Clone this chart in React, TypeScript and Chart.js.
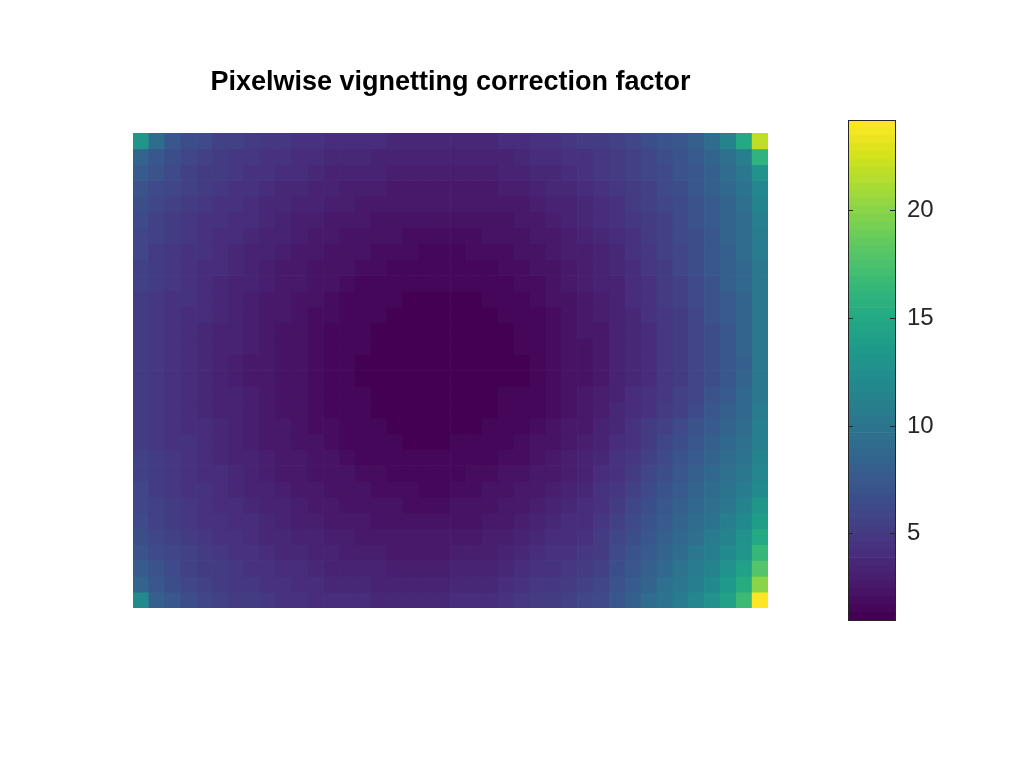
import React, { useEffect, useRef } from "react";
import { Chart, registerables } from "chart.js";

Chart.register(...registerables);

const TITLE = "Pixelwise vignetting correction factor";
const COLOR_MIN = 1.0;
const COLOR_MAX = 24.2;
const COLORBAR_TICKS = [5, 10, 15, 20];
const LEVELS = 64;

const viridisAnchors = ["#440154","#481a6c","#472f7d","#414487","#39568c","#31688e","#2a788e","#23888e","#1f988b","#22a884","#35b779","#54c568","#7ad151","#a5db36","#d2e21b","#fde725"];

const correctionRows: number[][] = [
[13,9.0,7.5,6.7,6.1,5.7,5.4,5.1,4.9,4.7,4.5,4.3,4.2,4.1,4.0,3.9,3.8,3.7,3.7,3.7,3.7,3.7,3.8,3.9,4.1,4.3,4.5,4.7,5.0,5.3,5.6,6.0,6.5,6.9,7.5,8.2,9.2,11.5,15,22],
[8.5,7.4,6.6,6.0,5.6,5.3,4.9,4.7,4.5,4.3,4.1,4.0,3.8,3.7,3.6,3.4,3.4,3.3,3.3,3.3,3.3,3.3,3.4,3.4,3.7,3.9,4.1,4.4,4.6,4.9,5.2,5.6,6.0,6.5,7.0,7.6,8.5,9.6,11.0,16],
[7.7,6.8,6.2,5.7,5.3,5.0,4.7,4.5,4.3,4.1,3.9,3.7,3.5,3.4,3.3,3.2,3.1,3.0,3.0,3.0,3.0,3.0,3.1,3.2,3.4,3.6,3.8,4.1,4.4,4.7,5.0,5.4,5.8,6.2,6.8,7.4,8.2,9.1,10.4,12.6],
[7.1,6.4,5.8,5.4,5.0,4.8,4.5,4.3,4.0,3.8,3.6,3.4,3.3,3.1,3.0,2.9,2.8,2.7,2.7,2.7,2.7,2.7,2.8,2.9,3.1,3.3,3.6,3.8,4.1,4.4,4.7,5.2,5.6,6.1,6.5,7.2,7.9,8.8,9.9,11.8],
[6.7,6.0,5.5,5.1,4.8,4.6,4.3,4.1,3.8,3.6,3.4,3.2,3.0,2.9,2.7,2.6,2.6,2.5,2.5,2.5,2.5,2.5,2.6,2.6,2.8,3.0,3.3,3.5,3.8,4.2,4.5,5.0,5.4,5.9,6.4,7.0,7.7,8.6,9.6,11.4],
[6.3,5.7,5.3,4.9,4.6,4.4,4.1,3.9,3.6,3.4,3.1,3.0,2.8,2.6,2.5,2.4,2.3,2.2,2.2,2.2,2.2,2.2,2.3,2.4,2.6,2.8,3.0,3.3,3.6,4.0,4.3,4.8,5.2,5.7,6.2,6.8,7.6,8.4,9.3,11.0],
[6.0,5.5,5.0,4.7,4.5,4.2,3.9,3.7,3.4,3.2,2.9,2.7,2.6,2.4,2.3,2.2,2.1,2.0,2.0,2.0,2.0,2.0,2.1,2.2,2.4,2.5,2.8,3.0,3.3,3.7,4.0,4.6,5.0,5.5,6.1,6.7,7.4,8.3,9.1,10.6],
[5.8,5.3,4.9,4.6,4.3,4.0,3.8,3.5,3.2,3.0,2.7,2.6,2.4,2.2,2.1,2.0,1.9,1.8,1.7,1.7,1.7,1.8,1.9,2.0,2.2,2.3,2.6,2.9,3.1,3.5,3.8,4.4,4.9,5.4,6.0,6.7,7.4,8.2,9.1,10.5],
[5.6,5.1,4.8,4.5,4.2,3.9,3.6,3.3,3.1,2.8,2.6,2.4,2.2,2.1,1.9,1.8,1.7,1.6,1.5,1.5,1.5,1.6,1.7,1.8,2.0,2.2,2.4,2.7,3.0,3.3,3.7,4.2,4.7,5.3,5.9,6.6,7.3,8.0,8.9,10.3],
[5.4,5.0,4.7,4.4,4.1,3.8,3.5,3.2,2.9,2.7,2.5,2.3,2.1,1.9,1.7,1.6,1.5,1.4,1.4,1.4,1.4,1.4,1.5,1.6,1.8,2.0,2.3,2.6,2.9,3.2,3.5,4.1,4.6,5.1,5.7,6.4,7.1,7.9,8.7,10.2],
[5.3,4.9,4.6,4.3,4.0,3.7,3.4,3.1,2.8,2.6,2.4,2.1,1.9,1.7,1.6,1.4,1.4,1.3,1.3,1.3,1.3,1.3,1.4,1.4,1.7,1.8,2.1,2.4,2.7,3.0,3.4,3.9,4.4,5.0,5.5,6.1,6.9,7.7,8.6,10.1],
[5.2,4.8,4.5,4.2,3.9,3.6,3.3,3.0,2.7,2.5,2.2,2.0,1.8,1.6,1.4,1.4,1.3,1.2,1.2,1.2,1.2,1.2,1.3,1.4,1.5,1.7,2.0,2.3,2.5,2.9,3.3,3.8,4.3,4.8,5.3,5.9,6.8,7.6,8.5,10.1],
[5.1,4.8,4.5,4.1,3.8,3.5,3.2,2.9,2.7,2.4,2.2,2.0,1.7,1.5,1.4,1.3,1.2,1.2,1.2,1.2,1.2,1.2,1.2,1.3,1.4,1.6,1.8,2.2,2.5,2.8,3.2,3.7,4.2,4.7,5.3,5.9,6.7,7.5,8.4,10.1],
[5.1,4.7,4.4,4.1,3.8,3.5,3.2,2.9,2.6,2.4,2.1,1.9,1.7,1.5,1.4,1.3,1.2,1.2,1.1,1.1,1.1,1.2,1.2,1.3,1.4,1.6,1.8,2.1,2.4,2.8,3.2,3.7,4.2,4.7,5.2,5.8,6.5,7.4,8.3,10.1],
[5.0,4.7,4.4,4.1,3.8,3.5,3.1,2.8,2.6,2.4,2.1,1.9,1.6,1.5,1.3,1.2,1.2,1.1,1.1,1.1,1.1,1.1,1.2,1.2,1.3,1.6,1.8,2.1,2.4,2.8,3.2,3.7,4.2,4.7,5.2,5.8,6.5,7.3,8.2,10.1],
[5.0,4.7,4.4,4.1,3.8,3.5,3.1,2.8,2.6,2.4,2.1,1.9,1.6,1.5,1.3,1.2,1.2,1.1,1.1,1.1,1.1,1.1,1.2,1.2,1.3,1.6,1.8,2.1,2.4,2.8,3.2,3.7,4.2,4.7,5.2,5.8,6.6,7.4,8.3,10.2],
[5.1,4.7,4.4,4.1,3.8,3.5,3.2,2.9,2.6,2.4,2.1,1.9,1.7,1.5,1.4,1.3,1.2,1.2,1.1,1.1,1.1,1.2,1.2,1.4,1.5,1.7,1.9,2.2,2.5,2.9,3.3,3.9,4.4,4.9,5.4,5.9,6.9,7.7,8.7,10.3],
[5.1,4.8,4.5,4.1,3.8,3.5,3.2,2.9,2.7,2.4,2.2,2.0,1.7,1.5,1.4,1.3,1.2,1.2,1.2,1.2,1.3,1.3,1.3,1.4,1.5,1.7,2.0,2.4,2.7,3.1,3.6,4.1,4.6,5.2,5.7,6.3,7.3,8.1,8.9,10.6],
[5.2,4.8,4.5,4.2,3.9,3.6,3.3,3.0,2.7,2.5,2.2,2.0,1.8,1.6,1.4,1.4,1.3,1.2,1.2,1.2,1.3,1.3,1.4,1.6,1.6,1.9,2.2,2.5,2.8,3.3,3.8,4.4,5.0,5.6,6.2,6.8,7.7,8.4,9.3,10.9],
[5.3,4.9,4.6,4.3,4.0,3.7,3.4,3.1,2.8,2.6,2.4,2.1,1.9,1.7,1.6,1.4,1.4,1.3,1.3,1.3,1.4,1.4,1.5,1.6,1.9,2.1,2.3,2.7,3.1,3.5,4.0,4.6,5.3,5.9,6.6,7.3,8.1,8.8,9.6,11.1],
[5.4,5.0,4.7,4.4,4.1,3.8,3.5,3.2,2.9,2.7,2.5,2.3,2.1,1.9,1.7,1.6,1.5,1.4,1.4,1.4,1.6,1.6,1.7,1.8,2.0,2.3,2.6,3.0,3.3,3.8,4.3,4.9,5.6,6.3,7.0,7.7,8.5,9.2,9.9,11.4],
[5.6,5.1,4.8,4.5,4.2,3.9,3.6,3.3,3.1,2.8,2.6,2.4,2.2,2.1,1.9,1.8,1.7,1.6,1.5,1.5,1.7,1.8,1.9,2.1,2.3,2.6,2.8,3.1,3.5,4.0,4.6,5.2,5.9,6.6,7.4,8.1,8.9,9.5,10.3,11.7],
[5.8,5.3,4.9,4.6,4.3,4.0,3.8,3.5,3.2,3.0,2.7,2.6,2.4,2.2,2.1,2.0,1.9,1.8,1.7,1.7,1.9,2.0,2.1,2.3,2.5,2.7,3.0,3.4,3.7,4.3,4.8,5.5,6.2,6.9,7.7,8.5,9.2,9.9,10.7,12.0],
[6.0,5.5,5.0,4.7,4.5,4.2,3.9,3.7,3.4,3.2,2.9,2.7,2.6,2.4,2.3,2.2,2.1,2.0,2.0,2.0,2.2,2.2,2.3,2.6,2.8,3.0,3.3,3.6,4.0,4.6,5.1,5.9,6.6,7.4,8.1,8.8,9.5,10.4,11.3,13.0],
[6.3,5.7,5.3,4.9,4.6,4.4,4.1,3.9,3.6,3.4,3.1,3.0,2.8,2.6,2.5,2.4,2.3,2.2,2.2,2.2,2.4,2.4,2.5,2.8,3.0,3.3,3.6,4.0,4.2,4.8,5.5,6.3,7.0,7.8,8.4,9.1,10.0,10.8,11.9,14.0],
[6.7,6.0,5.5,5.1,4.8,4.6,4.3,4.1,3.8,3.6,3.4,3.2,3.0,2.9,2.7,2.6,2.6,2.5,2.5,2.5,2.8,2.8,2.9,3.0,3.3,3.7,3.9,4.2,4.6,5.0,5.8,6.6,7.4,8.1,8.8,9.6,10.5,11.3,12.6,15.1],
[7.1,6.4,5.8,5.4,5.0,4.8,4.5,4.3,4.0,3.8,3.6,3.4,3.3,3.1,3.0,2.9,2.8,2.7,2.7,2.7,3.0,3.0,3.1,3.4,3.6,4.0,4.3,4.5,4.8,5.3,6.1,7.0,7.8,8.5,9.2,10.1,11.0,12.0,13.3,16.4],
[7.7,6.8,6.2,5.7,5.3,5.0,4.7,4.5,4.3,4.1,3.9,3.7,3.5,3.4,3.3,3.2,3.1,3.0,3.0,3.0,3.3,3.3,3.4,3.7,4.0,4.3,4.5,4.9,5.2,5.6,6.5,7.4,8.2,8.9,9.7,10.6,11.5,12.6,14.2,17.9],
[8.5,7.4,6.6,6.0,5.6,5.3,4.9,4.7,4.5,4.3,4.1,4.0,3.8,3.7,3.6,3.4,3.4,3.3,3.3,3.3,3.6,3.6,3.7,4.0,4.4,4.7,4.9,5.2,5.5,5.9,6.8,7.7,8.6,9.4,10.1,11.0,12.1,13.4,15.2,20.1],
[12,8.1,7.2,6.5,6.0,5.6,5.3,5.0,4.8,4.6,4.4,4.2,4.1,4.0,3.9,3.8,3.7,3.6,3.6,3.6,3.9,3.9,4.0,4.4,4.7,5.1,5.3,5.5,5.8,6.2,7.2,8.2,9.2,9.9,10.7,11.7,12.9,14.3,16.9,24],
];

const hexToRgb = (h: string) => [1, 3, 5].map((i) => parseInt(h.slice(i, i + 2), 16));

const levelColor = (level: number) => {
  const p = (level / (LEVELS - 1)) * (viridisAnchors.length - 1);
  const a = Math.floor(p);
  const b = Math.min(viridisAnchors.length - 1, a + 1);
  const f = p - a;
  const ca = hexToRgb(viridisAnchors[a]);
  const cb = hexToRgb(viridisAnchors[b]);
  const c = ca.map((v, i) => Math.round(v + (cb[i] - v) * f));
  return `rgb(${c[0]},${c[1]},${c[2]})`;
};

const valueColor = (v: number) => {
  const t = (v - COLOR_MIN) / (COLOR_MAX - COLOR_MIN);
  return levelColor(Math.max(0, Math.min(LEVELS - 1, Math.floor(t * LEVELS))));
};

const FONT = "'Liberation Sans', Arial, sans-serif";

export default function App() {
  const heatRef = useRef<HTMLCanvasElement>(null);
  const barRef = useRef<HTMLCanvasElement>(null);

  useEffect(() => {
    const nRows = correctionRows.length;
    const heat = new Chart(heatRef.current!, {
      type: "bar",
      data: {
        labels: correctionRows[0].map((_, i) => String(i)),
        datasets: correctionRows.map((row, j) => ({
          label: `row ${j}`,
          data: row.map(() => [j, j + 1]),
          backgroundColor: row.map(valueColor),
          borderWidth: 0,
          barPercentage: 1,
          categoryPercentage: 1,
          grouped: false,
        })) as any,
      },
      options: {
        responsive: false,
        animation: false,
        layout: { padding: 0 },
        plugins: {
          legend: { display: false },
          tooltip: { enabled: false },
          title: {
            display: true,
            text: TITLE,
            color: "#000000",
            font: { family: FONT, size: 27, weight: "bold", lineHeight: 1.2 },
            padding: { top: 66, bottom: 34.6 },
          },
        },
        scales: {
          x: { display: false, offset: true },
          y: { display: false, min: 0, max: nRows, reverse: true },
        },
      },
    });

    const levels = Array.from({ length: LEVELS }, (_, i) => i);
    const span = (COLOR_MAX - COLOR_MIN) / LEVELS;
    const frame = {
      id: "frame",
      afterDraw(c: any) {
        const { left, top, width, height } = c.chartArea;
        const ctx = c.ctx;
        ctx.save();
        ctx.strokeStyle = "#262626";
        ctx.lineWidth = 1;
        ctx.strokeRect(left + 0.5, top + 0.5, width, height);
        ctx.restore();
      },
    };
    const bar = new Chart(barRef.current!, {
      type: "bar",
      data: {
        labels: ["colour"],
        datasets: levels.map((l) => ({
          label: `level ${l}`,
          data: [[COLOR_MIN + l * span, COLOR_MIN + (l + 1) * span]],
          backgroundColor: levelColor(l),
          borderWidth: 0,
          barPercentage: 1,
          categoryPercentage: 1,
          grouped: false,
        })) as any,
      },
      options: {
        responsive: false,
        animation: false,
        layout: { padding: { left: 48, top: 20, bottom: 20, right: 0 } },
        plugins: { legend: { display: false }, tooltip: { enabled: false } },
        scales: {
          x: { display: false },
          y: {
            position: "right",
            min: COLOR_MIN,
            max: COLOR_MAX,
            afterFit: (s: any) => { s.width = 129; s.paddingTop = 0; s.paddingBottom = 0; },
            afterBuildTicks: (s: any) => { s.ticks = COLORBAR_TICKS.map((value) => ({ value })); },
            ticks: {
              color: "#262626",
              padding: 12,
              font: { family: FONT, size: 24 },
            },
            grid: { drawTicks: false, color: "#262626", z: 1, lineWidth: 1 },
            border: { display: false, dash: [5, 37, 5, 0] },
          },
        },
      },
      plugins: [frame],
    });

    return () => { heat.destroy(); bar.destroy(); };
  }, []);

  return (
    <div style={{ position: "absolute", left: 0, top: 0, width: 1024, height: 768, background: "#fff", overflow: "hidden" }}>
      <canvas ref={heatRef} width={635} height={608} style={{ position: "absolute", left: 133, top: 0 }} />
      <canvas ref={barRef} width={224} height={540} style={{ position: "absolute", left: 800, top: 100 }} />
    </div>
  );
}
